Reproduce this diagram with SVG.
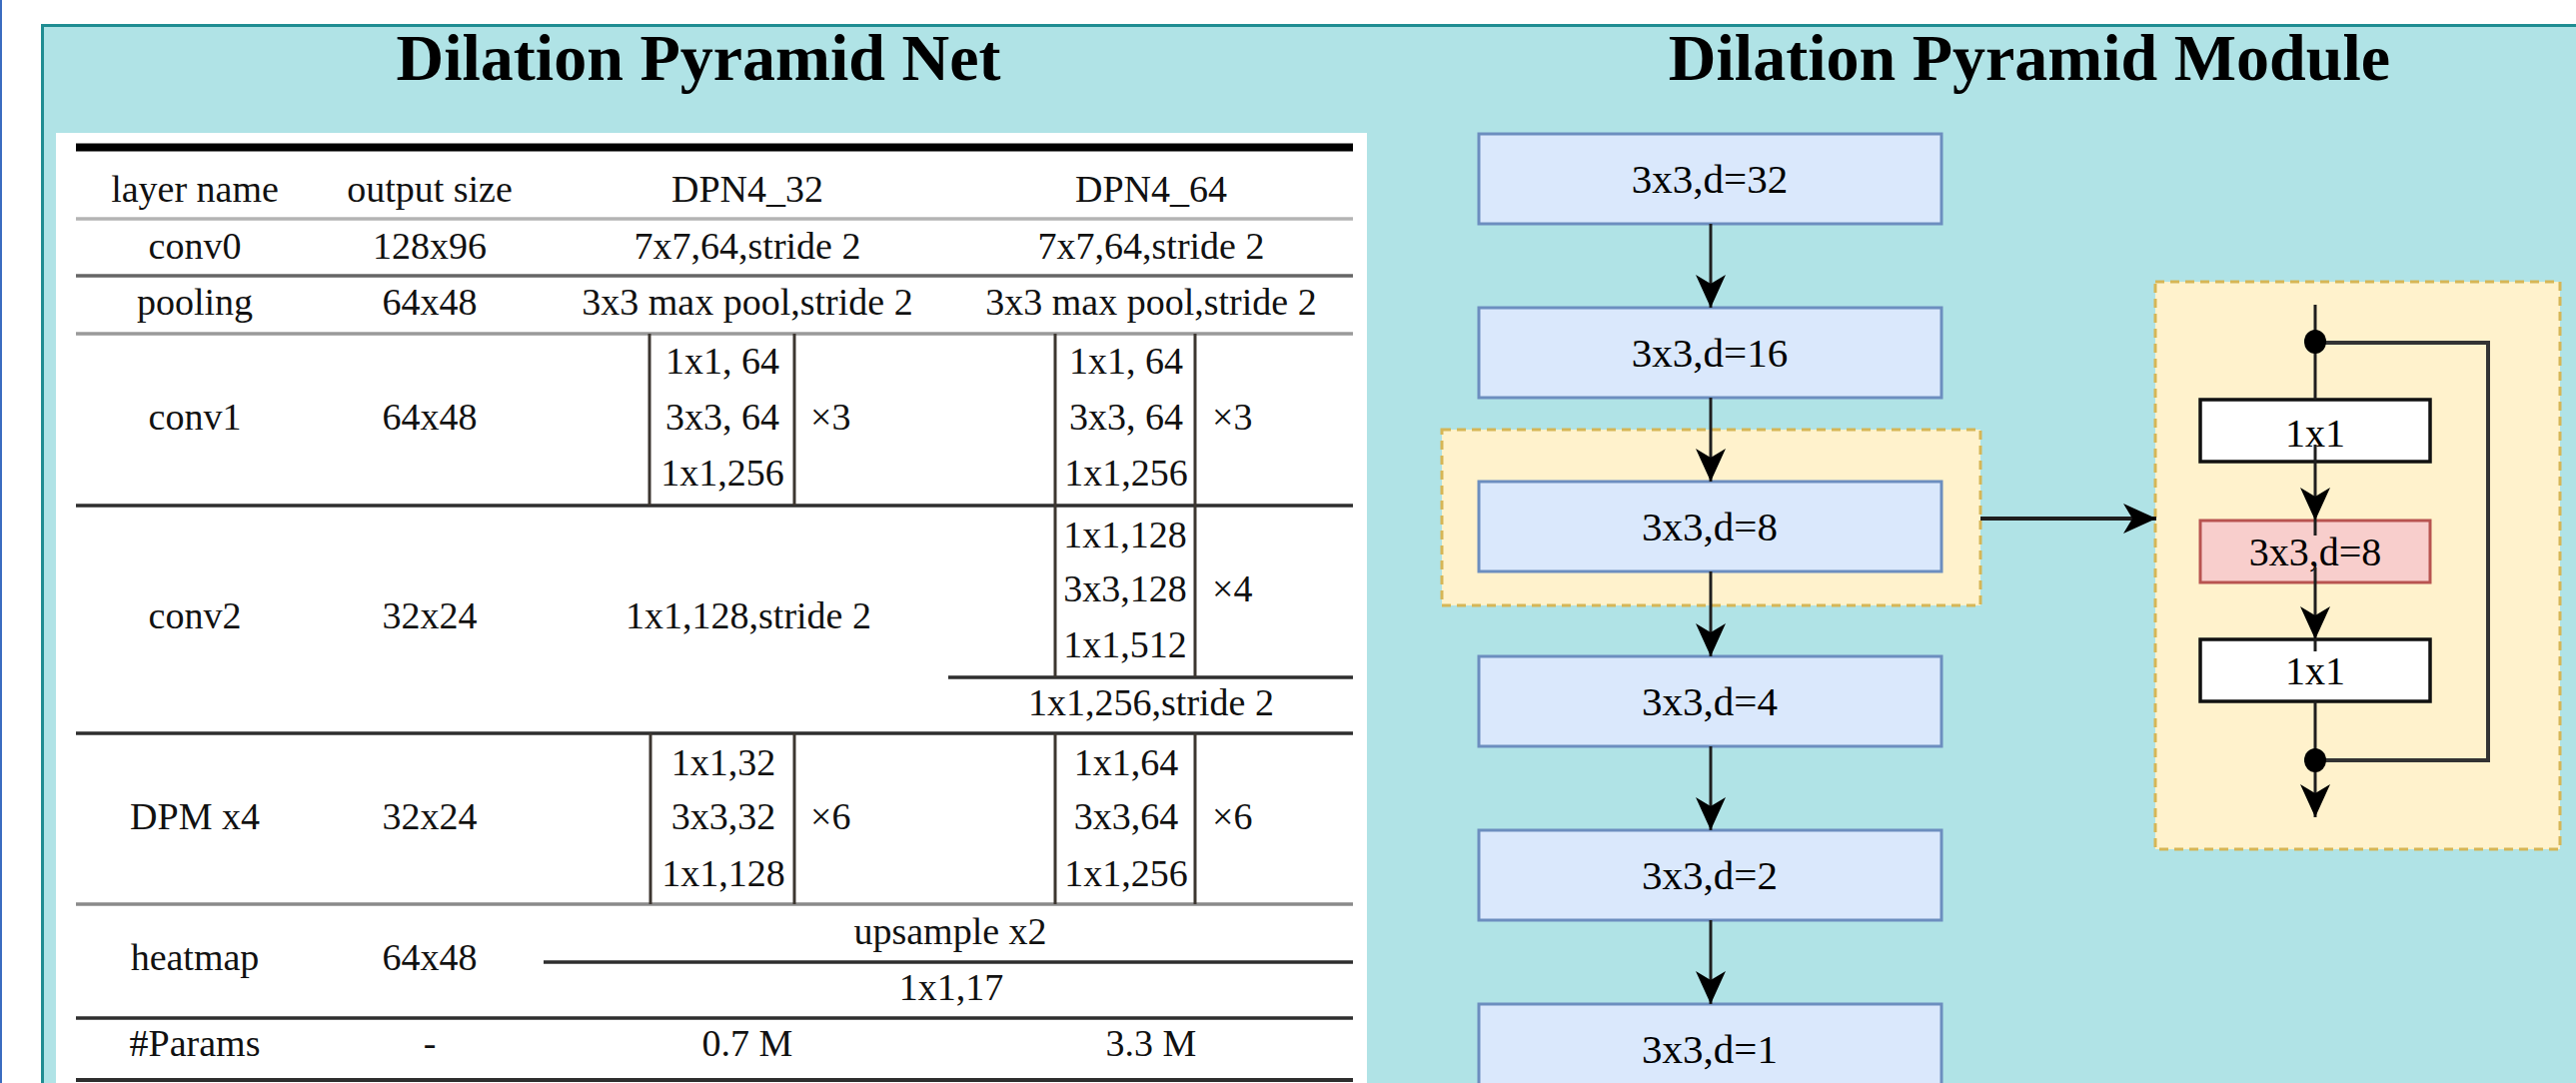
<svg xmlns="http://www.w3.org/2000/svg" width="2578" height="1084" viewBox="0 0 2578 1084">
  <defs>
    <style>
      .title { font-family: "Liberation Serif", "Times New Roman", serif; font-weight: bold; font-size: 66px; fill: #000; text-anchor: middle; }
      .tt { font-family: "Liberation Serif", "Times New Roman", serif; font-size: 38px; fill: #111; text-anchor: middle; }
      .ts { font-family: "Liberation Serif", "Times New Roman", serif; font-size: 38px; fill: #111; text-anchor: start; }
      .nt { font-family: "Liberation Serif", "Times New Roman", serif; font-size: 41px; fill: #000; text-anchor: middle; }
      .rule { stroke-width: 3.5; fill: none; }
      .dark { stroke: #2e2e2e; }
      .mid { stroke: #666; }
      .light { stroke: #b4b4b4; }
      .brk { stroke: #3c3630; stroke-width: 3; fill: none; }
      .layer { fill: #dae8fc; stroke: #6c8ebf; stroke-width: 3; }
      .plain { fill: #ffffff; stroke: #111; stroke-width: 3.5; }
      .dil { fill: #f8cecc; stroke: #b85450; stroke-width: 3; }
      .group { fill: #fff2cc; stroke: #d6b656; stroke-width: 3; stroke-dasharray: 9 6; }
      .edge { stroke: #1e1e1e; stroke-width: 3; fill: none; }
    </style>
    <marker id="arrow" markerUnits="userSpaceOnUse" markerWidth="34" markerHeight="32" viewBox="0 0 34 32" refX="33" refY="16" orient="auto">
      <path d="M0,1 L33,16 L0,31 L9,16 Z" fill="#000"/>
    </marker>
  </defs>

  <!-- page background and frame -->
  <rect x="0" y="0" width="2578" height="1084" fill="#ffffff"/>
  <rect x="0" y="0" width="2" height="1084" fill="#3b6cc0"/>
  <rect x="42.5" y="25.5" width="2600" height="1100" fill="#b0e3e6" stroke="#1f8d92" stroke-width="3"/>

  <text class="title" x="699" y="80">Dilation Pyramid Net</text>
  <text class="title" x="2031" y="80">Dilation Pyramid Module</text>

  <!-- architecture table -->
  <g id="table">
    <rect x="56" y="133" width="1312" height="960" fill="#ffffff"/>
    <line x1="76" y1="147.5" x2="1354" y2="147.5" stroke="#000" stroke-width="8"/>
    <line class="rule light" x1="76" y1="219" x2="1354" y2="219"/>
    <line class="rule mid" x1="76" y1="276" x2="1354" y2="276"/>
    <line class="rule light" x1="76" y1="334" x2="1354" y2="334" style="stroke:#9a9a9a"/>
    <line class="rule dark" x1="76" y1="506" x2="1354" y2="506"/>
    <line class="rule dark" x1="949" y1="678" x2="1354" y2="678"/>
    <line class="rule dark" x1="76" y1="734" x2="1354" y2="734"/>
    <line class="rule mid" x1="76" y1="905" x2="1354" y2="905" style="stroke:#8a8a8a"/>
    <line class="rule dark" x1="544" y1="963" x2="1354" y2="963"/>
    <line class="rule dark" x1="76" y1="1019" x2="1354" y2="1019"/>
    <line class="rule dark" x1="76" y1="1081" x2="1354" y2="1081" style="stroke-width:4"/>

    <!-- block brackets -->
    <path class="brk" d="M650,334 V506 M795,334 V506"/>
    <path class="brk" d="M1056,334 V506 M1196,334 V506"/>
    <path class="brk" d="M1056,506 V678 M1196,506 V678"/>
    <path class="brk" d="M651,734 V905 M795,734 V905"/>
    <path class="brk" d="M1056,734 V905 M1196,734 V905"/>

    <!-- header -->
    <text class="tt" x="195" y="202">layer name</text>
    <text class="tt" x="430" y="202">output size</text>
    <text class="tt" x="748" y="202">DPN4_32</text>
    <text class="tt" x="1152" y="202">DPN4_64</text>

    <!-- conv0 -->
    <text class="tt" x="195" y="259">conv0</text>
    <text class="tt" x="430" y="259">128x96</text>
    <text class="tt" x="748" y="259">7x7,64,stride 2</text>
    <text class="tt" x="1152" y="259">7x7,64,stride 2</text>

    <!-- pooling -->
    <text class="tt" x="195" y="315">pooling</text>
    <text class="tt" x="430" y="315">64x48</text>
    <text class="tt" x="748" y="315">3x3 max pool,stride 2</text>
    <text class="tt" x="1152" y="315">3x3 max pool,stride 2</text>

    <!-- conv1 -->
    <text class="tt" x="195" y="430">conv1</text>
    <text class="tt" x="430" y="430">64x48</text>
    <text class="tt" x="723" y="374">1x1, 64</text>
    <text class="tt" x="723" y="430">3x3, 64</text>
    <text class="tt" x="723" y="486">1x1,256</text>
    <text class="ts" x="811" y="430">×3</text>
    <text class="tt" x="1127" y="374">1x1, 64</text>
    <text class="tt" x="1127" y="430">3x3, 64</text>
    <text class="tt" x="1127" y="486">1x1,256</text>
    <text class="ts" x="1213" y="430">×3</text>

    <!-- conv2 -->
    <text class="tt" x="195" y="629">conv2</text>
    <text class="tt" x="430" y="629">32x24</text>
    <text class="tt" x="749" y="629">1x1,128,stride 2</text>
    <text class="tt" x="1126" y="548">1x1,128</text>
    <text class="tt" x="1126" y="602">3x3,128</text>
    <text class="tt" x="1126" y="658">1x1,512</text>
    <text class="ts" x="1213" y="602">×4</text>
    <text class="tt" x="1152" y="716">1x1,256,stride 2</text>

    <!-- DPM x4 -->
    <text class="tt" x="195" y="830">DPM x4</text>
    <text class="tt" x="430" y="830">32x24</text>
    <text class="tt" x="724" y="776">1x1,32</text>
    <text class="tt" x="724" y="830">3x3,32</text>
    <text class="tt" x="724" y="887">1x1,128</text>
    <text class="ts" x="811" y="830">×6</text>
    <text class="tt" x="1127" y="776">1x1,64</text>
    <text class="tt" x="1127" y="830">3x3,64</text>
    <text class="tt" x="1127" y="887">1x1,256</text>
    <text class="ts" x="1213" y="830">×6</text>

    <!-- heatmap -->
    <text class="tt" x="195" y="971">heatmap</text>
    <text class="tt" x="430" y="971">64x48</text>
    <text class="tt" x="951" y="945">upsample x2</text>
    <text class="tt" x="952" y="1001">1x1,17</text>

    <!-- parameters -->
    <text class="tt" x="195" y="1057">#Params</text>
    <text class="tt" x="430" y="1057">-</text>
    <text class="tt" x="748" y="1057">0.7 M</text>
    <text class="tt" x="1152" y="1057">3.3 M</text>
  </g>

  <!-- module containers -->
  <g id="highlight">
    <rect class="group" x="1443" y="430" width="539" height="176"/>
  </g>
  <g id="module-detail">
    <rect class="group" x="2157" y="282" width="405" height="568"/>
  </g>

  <!-- dilated conv stack -->
  <g id="d32">
    <rect class="layer" x="1480" y="134" width="463" height="90"/>
    <text class="nt" x="1711" y="193">3x3,d=32</text>
  </g>
  <g id="d16">
    <rect class="layer" x="1480" y="308" width="463" height="90"/>
    <text class="nt" x="1711" y="367">3x3,d=16</text>
  </g>
  <g id="d8">
    <rect class="layer" x="1480" y="482" width="463" height="90"/>
    <text class="nt" x="1711" y="541">3x3,d=8</text>
  </g>
  <g id="d4">
    <rect class="layer" x="1480" y="657" width="463" height="90"/>
    <text class="nt" x="1711" y="716">3x3,d=4</text>
  </g>
  <g id="d2">
    <rect class="layer" x="1480" y="831" width="463" height="90"/>
    <text class="nt" x="1711" y="890">3x3,d=2</text>
  </g>
  <g id="d1">
    <rect class="layer" x="1480" y="1005" width="463" height="90"/>
    <text class="nt" x="1711" y="1064">3x3,d=1</text>
  </g>

  <!-- bottleneck detail -->
  <g id="reduce">
    <rect class="plain" x="2202" y="400" width="230" height="62"/>
    <text class="nt" x="2317" y="447" style="font-size:40px">1x1</text>
  </g>
  <g id="dilated">
    <rect class="dil" x="2202" y="521" width="230" height="62"/>
    <text class="nt" x="2317" y="566" style="font-size:40px">3x3,d=8</text>
  </g>
  <g id="expand">
    <rect class="plain" x="2202" y="640" width="230" height="62"/>
    <text class="nt" x="2317" y="685" style="font-size:40px">1x1</text>
  </g>

  <!-- connectors -->
  <g id="connectors">
    <line class="edge" x1="1712" y1="224" x2="1712" y2="308" marker-end="url(#arrow)"/>
    <line class="edge" x1="1712" y1="398" x2="1712" y2="482" marker-end="url(#arrow)"/>
    <line class="edge" x1="1712" y1="572" x2="1712" y2="657" marker-end="url(#arrow)"/>
    <line class="edge" x1="1712" y1="747" x2="1712" y2="831" marker-end="url(#arrow)"/>
    <line class="edge" x1="1712" y1="921" x2="1712" y2="1005" marker-end="url(#arrow)"/>
    <line class="edge" x1="1982" y1="519" x2="2158" y2="519" style="stroke-width:4" marker-end="url(#arrow)"/>

    <line class="edge" x1="2317" y1="305" x2="2317" y2="400"/>
    <line class="edge" x1="2317" y1="445" x2="2317" y2="521" marker-end="url(#arrow)"/>
    <line class="edge" x1="2317" y1="521" x2="2317" y2="536"/>
    <line class="edge" x1="2317" y1="568" x2="2317" y2="640" marker-end="url(#arrow)"/>
    <line class="edge" x1="2317" y1="640" x2="2317" y2="652"/>
    <line class="edge" x1="2317" y1="702" x2="2317" y2="818" marker-end="url(#arrow)"/>
    <path class="edge" d="M2317,343 H2490 V761 H2317" style="stroke:#333;stroke-width:4"/>
    <ellipse cx="2317" cy="342" rx="11" ry="12" fill="#000"/>
    <ellipse cx="2317" cy="761" rx="11" ry="12" fill="#000"/>
  </g>
</svg>
